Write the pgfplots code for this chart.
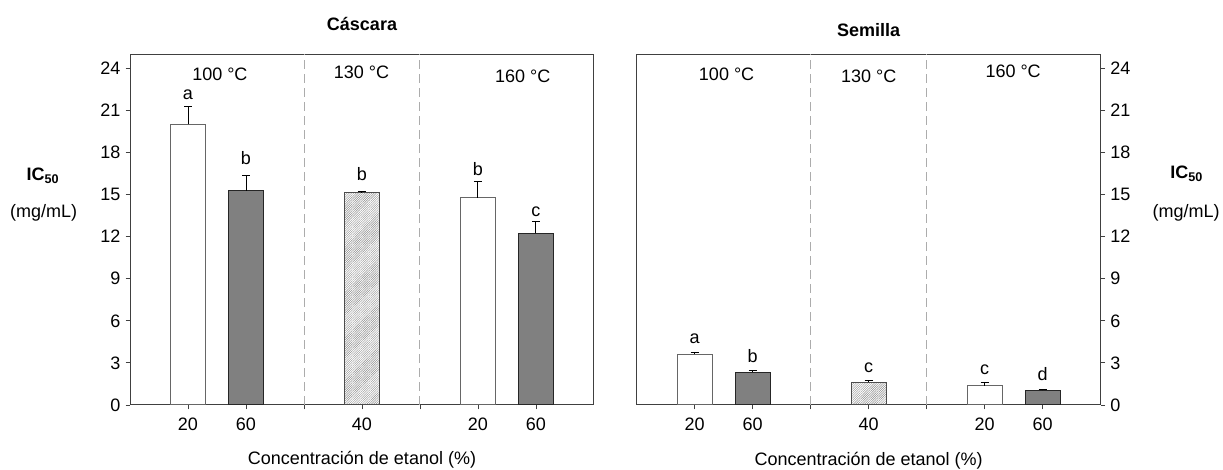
\documentclass[border=0pt]{standalone}
\usepackage{fontspec}
\setmainfont{Liberation Sans}
\usepackage{pgfplots}
\pgfplotsset{compat=1.18}
\usetikzlibrary{patterns.meta}
\newcommand{\fs}{\fontsize{18}{21}\selectfont}
\pgfplotsset{
  panel/.style={
    scale only axis, width=464pt, height=350.7pt, anchor=south west,
    xmin=0, xmax=8, ymin=0, ymax=25,
    xtick={1,2,4,6,7}, xticklabels={20,60,40,20,60},
    extra x ticks={3,5}, extra x tick labels={},
    extra x tick style={grid=major, major grid style={gray!65, line width=1pt, dash pattern=on 9pt off 5pt}},
    ytick={0,3,...,24},
    tick align=outside, major tick length=4.5pt,
    axis line style={black!75, line width=1pt},
    every tick/.style={black!75, line width=0.9pt},
    tick label style={font=\fs, inner sep=0pt},
    /pgf/number format/assume math mode=true,
    xticklabel style={yshift=-8pt},
    clip=false,
  },
  whitebar/.style={ybar, bar width=0.6, bar shift=0pt, fill=white, draw=black!60, line width=1pt},
  darkbar/.style={ybar, bar width=0.6, bar shift=0pt, fill=black!50, draw=black!85, line width=1pt},
  hatchbar/.style={ybar, bar width=0.6, bar shift=0pt, draw=black!70, line width=1pt,
     pattern={Lines[angle=45,distance=1.6pt,line width=0.45pt]}, pattern color=black!45},
  errs/.style={error bars/.cd, y dir=plus, y explicit,
     error bar style={black, line width=1pt},
     error mark options={rotate=90, mark size=4pt, line width=1pt, black}},
}
\begin{document}
\begin{tikzpicture}
\path[use as bounding box] (0pt,0pt) rectangle (1223pt,470pt);
% ---------- Cascara ----------
\begin{axis}[panel, at={(130pt,65pt)}, ytick pos=left, xtick pos=bottom,
  yticklabel style={xshift=-5pt}]
\addplot[whitebar, errs] coordinates {(1,20.0) +- (0,1.30) (6,14.76) +- (0,1.19)};
\addplot[darkbar, errs] coordinates {(2,15.29) +- (0,1.07) (7,12.24) +- (0,0.83)};
\addplot[hatchbar, errs] coordinates {(4,15.12) +- (0,0.07)};
\node[font=\fs] at (axis cs:1.55,23.56) {100 °C};
\node[font=\fs] at (axis cs:3.99,23.70) {130 °C};
\node[font=\fs] at (axis cs:6.77,23.41) {160 °C};
\node[font=\fs] at (axis cs:1,22.10) {a};
\node[font=\fs] at (axis cs:2,17.57) {b};
\node[font=\fs] at (axis cs:4,16.43) {b};
\node[font=\fs] at (axis cs:6,16.84) {b};
\node[font=\fs] at (axis cs:7,13.80) {c};
\end{axis}
% ---------- Semilla ----------
\begin{axis}[panel, at={(636.7pt,65pt)}, ytick pos=right, xtick pos=bottom,
  yticklabel style={xshift=5pt}]
\addplot[whitebar, errs] coordinates {(1,3.61) +- (0,0.10) (6,1.36) +- (0,0.21)};
\addplot[darkbar, errs] coordinates {(2,2.33) +- (0,0.10) (7,1.04) +- (0,0.10)};
\addplot[hatchbar, errs] coordinates {(4,1.62) +- (0,0.14)};
\node[font=\fs] at (axis cs:1.55,23.60) {100 °C};
\node[font=\fs] at (axis cs:4.00,23.45) {130 °C};
\node[font=\fs] at (axis cs:6.49,23.80) {160 °C};
\node[font=\fs] at (axis cs:1,4.74) {a};
\node[font=\fs] at (axis cs:2,3.52) {b};
\node[font=\fs] at (axis cs:4,2.69) {c};
\node[font=\fs] at (axis cs:6,2.52) {c};
\node[font=\fs] at (axis cs:7,2.21) {d};
\end{axis}
% ---------- titles and labels ----------
\node[font=\fs\bfseries] at (362pt,446pt) {Cáscara};
\node[font=\fs\bfseries] at (868.7pt,440pt) {Semilla};
\node[font=\fs] at (362pt,10pt) {Concentración de etanol (\%)};
\node[font=\fs] at (868.7pt,9pt) {Concentración de etanol (\%)};
\node[font=\fs\bfseries] at (43pt,294pt) {IC\textsubscript{50}};
\node[font=\fs] at (43.7pt,257pt) {(mg/mL)};
\node[font=\fs\bfseries] at (1186.7pt,296pt) {IC\textsubscript{50}};
\node[font=\fs] at (1186pt,257pt) {(mg/mL)};
\end{tikzpicture}
\end{document}
